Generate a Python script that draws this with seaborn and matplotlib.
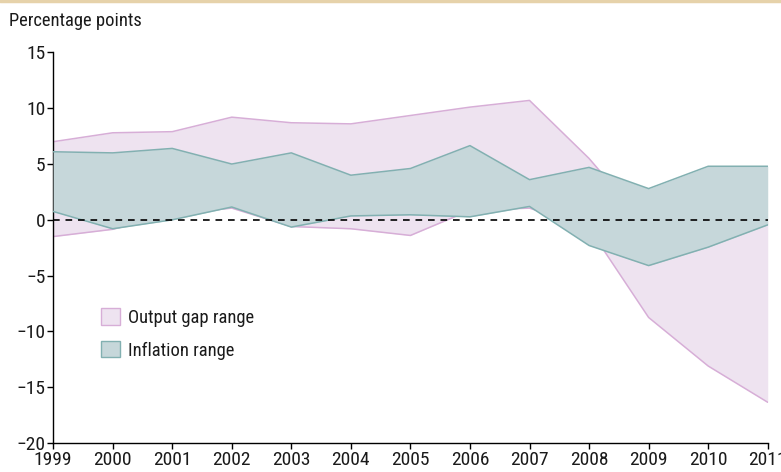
import matplotlib
matplotlib.use("Agg")
import matplotlib.pyplot as plt
from matplotlib.patches import Patch
import seaborn as sns
import pandas as pd

years = list(range(1999, 2012))
gap_high = [7.0, 7.8, 7.9, 9.2, 8.7, 8.6, 9.35, 10.1, 10.7, 5.5, -0.7, -1.7, -0.2]
gap_low = [-1.5, -0.85, 0.5, 1.05, -0.6, -0.8, -1.4, 0.85, 1.05, -0.75, -8.75, -13.1, -16.35]
inf_high = [6.1, 6.0, 6.4, 5.0, 6.0, 4.0, 4.6, 6.65, 3.6, 4.7, 2.8, 4.8, 4.8]
inf_low = [0.75, -0.8, 0.0, 1.15, -0.65, 0.35, 0.45, 0.27, 1.2, -2.3, -4.1, -2.45, -0.45]
yticks = [-20, -15, -10, -5, 0, 5, 10, 15]

df = pd.DataFrame({"year": years, "gap_high": gap_high, "gap_low": gap_low,
                   "inf_high": inf_high, "inf_low": inf_low})

sns.set_style("ticks")
plt.rcParams["font.family"] = ["Roboto Condensed", "DejaVu Sans"]
plt.rcParams["text.color"] = "#1a1a1a"
plt.rcParams["xtick.color"] = "black"
plt.rcParams["ytick.color"] = "black"
plt.rcParams["xtick.labelcolor"] = "#1a1a1a"
plt.rcParams["ytick.labelcolor"] = "#1a1a1a"

gap_fill, gap_edge = "#EEE3F0", "#D7AED7"
inf_fill, inf_edge = "#C6D7DA", "#82B0B1"

fig = plt.figure(figsize=(7.81, 4.72), dpi=100)
ax = fig.add_axes([0.068, 0.0614, 0.915, 0.8275])

ax.fill_between(df["year"], df["gap_low"], df["gap_high"], color=gap_fill, lw=0, zorder=1)
sns.lineplot(data=df, x="year", y="gap_high", color=gap_edge, lw=1.1, ax=ax, zorder=2)
sns.lineplot(data=df, x="year", y="gap_low", color=gap_edge, lw=1.1, ax=ax, zorder=2)
ax.fill_between(df["year"], df["inf_low"], df["inf_high"], color=inf_fill, lw=0, zorder=3)
sns.lineplot(data=df, x="year", y="inf_high", color=inf_edge, lw=1.1, ax=ax, zorder=4)
sns.lineplot(data=df, x="year", y="inf_low", color=inf_edge, lw=1.1, ax=ax, zorder=4)
ax.axhline(0, color="black", lw=1.2, ls=(0, (4, 3.5)), zorder=5)

ax.set_xlim(1999, 2011)
ax.set_ylim(-20, 15)
ax.set_xticks(years)
ax.set_xticklabels([str(y) for y in years])
ax.set_yticks(yticks)
ax.set_yticklabels([str(v).replace("-", "\u2212") for v in yticks])
ax.set_xlabel("")
ax.set_ylabel("")
ax.tick_params(axis="both", labelsize=14, length=4, width=1, color="black", pad=1.5)
for s in ["top", "right"]:
    ax.spines[s].set_visible(False)
for s in ["left", "bottom"]:
    ax.spines[s].set_color("black")
    ax.spines[s].set_linewidth(1)

handles = [Patch(facecolor=gap_fill, edgecolor=gap_edge, label="Output gap range"),
           Patch(facecolor=inf_fill, edgecolor=inf_edge, label="Inflation range")]
leg = ax.legend(handles=handles, loc="upper left", bbox_to_anchor=(0.044, 0.387),
                frameon=False, fontsize=13.3, handlelength=1.0, handleheight=1.0,
                handletextpad=0.45, labelspacing=0.75)

fig.text(0.012, 0.955, "Percentage points", fontsize=13.3, va="center", ha="left")
fig.add_artist(plt.Line2D([0, 1], [0.998, 0.998], color="#E6D2AA", lw=2.5,
                          transform=fig.transFigure))

fig.savefig("out.png", dpi=100)
